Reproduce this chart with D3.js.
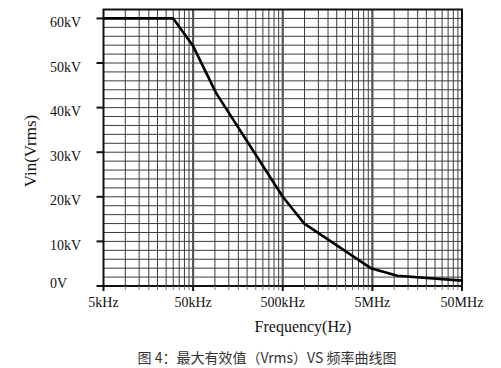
<!DOCTYPE html>
<html>
<head>
  <meta charset="utf-8">
  <script src="https://cdn.jsdelivr.net/npm/d3@7"></script>
  <style>
    body { margin: 0; background: #fff; }
    .tick-label { font-family: "Liberation Serif", "Times New Roman", serif; font-size: 14px; fill: #111; }
    .axis-title { font-family: "Liberation Serif", "Times New Roman", serif; fill: #111; }
    .caption { font-family: "Noto Sans CJK SC", sans-serif; font-size: 14px; fill: #333; }
  </style>
</head>
<body>
  <svg id="chart" width="501" height="368"></svg>
  <script>
    // curve: frequency (Hz) vs max Vin (kV)
    var freqs = [5e3, 3e4, 5e4, 9e4, 5e5, 8.7e5, 4.8e6, 9.5e6, 5e7];
    var vin = [60, 60, 53.8, 43.3, 20, 14, 4, 2.3, 1.2];

    var xTicks = [5e3, 5e4, 5e5, 5e6, 5e7];
    var xTickLabels = ['5kHz', '50kHz', '500kHz', '5MHz', '50MHz'];
    var yTicks = [0, 10, 20, 30, 40, 50, 60];
    var yTickLabels = ['0V', '10kV', '20kV', '30kV', '40kV', '50kV', '60kV'];
    // minor grid lines inside each decade, as multiples of the decade start
    var minorFactors = [1.75, 2.5, 3.2, 4, 5, 6, 7, 8, 9];
    var yGridStep = 2;

    var svg = d3.select('#chart');
    var x = d3.scaleLog().domain([5e3, 5e7]).range([103.5, 462]);
    var y = d3.scaleLinear().domain([0, 62]).range([286, 9.5]);

    var minorX = [];
    xTicks.slice(0, -1).forEach(function (d) {
      minorFactors.forEach(function (f) { minorX.push(d * f); });
    });
    var yGrid = d3.range(yGridStep, 62, yGridStep);

    var grid = svg.append('g');
    grid.selectAll('.hg').data(yGrid).enter().append('line')
      .attr('x1', x.range()[0]).attr('x2', x.range()[1])
      .attr('y1', function (d) { return y(d); }).attr('y2', function (d) { return y(d); })
      .attr('stroke', '#3c3c3c').attr('stroke-width', 1);
    grid.selectAll('.vg').data(minorX).enter().append('line')
      .attr('x1', function (d) { return x(d); }).attr('x2', function (d) { return x(d); })
      .attr('y1', y.range()[0]).attr('y2', y.range()[1])
      .attr('stroke', '#3c3c3c').attr('stroke-width', 1);
    grid.selectAll('.vmaj').data(xTicks.slice(1, -1)).enter().append('line')
      .attr('x1', function (d) { return x(d); }).attr('x2', function (d) { return x(d); })
      .attr('y1', y.range()[0]).attr('y2', y.range()[1])
      .attr('stroke', '#555').attr('stroke-width', 2.2);

    // frame
    svg.append('rect')
      .attr('x', x.range()[0]).attr('y', y.range()[1])
      .attr('width', x.range()[1] - x.range()[0])
      .attr('height', y.range()[0] - y.range()[1])
      .attr('fill', 'none').attr('stroke', '#111').attr('stroke-width', 2);

    // x axis ticks
    var xa = svg.append('g');
    xa.selectAll('.mt').data(minorX).enter().append('line')
      .attr('x1', function (d) { return x(d); }).attr('x2', function (d) { return x(d); })
      .attr('y1', 286).attr('y2', 290)
      .attr('stroke', '#777').attr('stroke-width', 1);
    xa.selectAll('.Mt').data(xTicks).enter().append('line')
      .attr('x1', function (d) { return x(d); }).attr('x2', function (d) { return x(d); })
      .attr('y1', 286).attr('y2', 291)
      .attr('stroke', '#111').attr('stroke-width', 2);
    xa.selectAll('text').data(xTicks).enter().append('text')
      .attr('class', 'tick-label')
      .attr('x', function (d) { return x(d); }).attr('y', 307)
      .attr('text-anchor', 'middle')
      .text(function (d, i) { return xTickLabels[i]; });

    // y axis ticks
    var ya = svg.append('g');
    ya.selectAll('line').data(yTicks).enter().append('line')
      .attr('x1', 96.5).attr('x2', x.range()[0])
      .attr('y1', function (d) { return y(d); }).attr('y2', function (d) { return y(d); })
      .attr('stroke', '#111').attr('stroke-width', 2);
    ya.selectAll('text').data(yTicks).enter().append('text')
      .attr('class', 'tick-label')
      .attr('x', 50)
      .attr('y', function (d) { return d === 0 ? y(d) + 1.5 : y(d) + 8.5; })
      .text(function (d, i) { return yTickLabels[i]; });

    // titles
    svg.append('text').attr('class', 'axis-title')
      .attr('x', 303).attr('y', 332).attr('text-anchor', 'middle')
      .style('font-size', '16px')
      .text('Frequency(Hz)');
    svg.append('text').attr('class', 'axis-title')
      .attr('transform', 'translate(36,151) rotate(-90)')
      .attr('text-anchor', 'middle')
      .style('font-size', '17px')
      .text('Vin(Vrms)');

    // curve
    var line = d3.line()
      .x(function (d) { return x(d[0]); })
      .y(function (d) { return y(d[1]); });
    svg.append('path')
      .datum(d3.zip(freqs, vin))
      .attr('d', line)
      .attr('fill', 'none').attr('stroke', '#000').attr('stroke-width', 2.6)
      .attr('stroke-linejoin', 'round');

    svg.append('text').attr('class', 'caption')
      .attr('x', 267).attr('y', 363).attr('text-anchor', 'middle')
      .text('图 4：最大有效值（Vrms）VS 频率曲线图');
  </script>
</body>
</html>
